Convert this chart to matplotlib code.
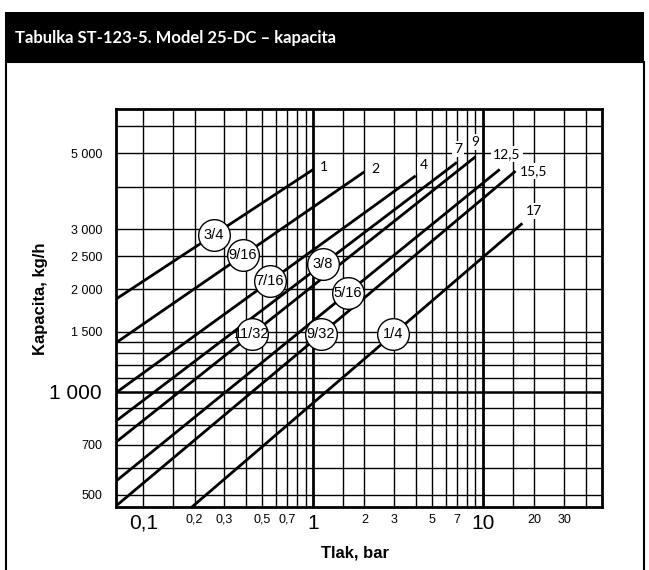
import numpy as np
import matplotlib.pyplot as plt
from matplotlib.patches import Rectangle

# orifice size, pressure range (bar) and capacity (kg/h) at both ends of each line
orifices = ['3/4', '9/16', '7/16', '3/8', '11/32', '5/16', '9/32', '1/4']
p_start = [0.07, 0.07, 0.07, 0.07, 0.07, 0.07, 0.07, 0.193]
cap_start = [1880, 1400, 1000, 826, 717, 551, 466, 460]
p_max = [1, 2, 4, 7, 9, 12.5, 15.5, 17]
cap_end = [4490, 4420, 4300, 4710, 4890, 4490, 4440, 3120]
p_max_labels = ['1', '2', '4', '7', '9', '12,5', '15,5', '17']
# pressure where the orifice badge sits on its line
p_badge = [0.26, 0.386, 0.556, 1.14, 0.436, 1.6, 1.11, 2.94]

x_ticks = [0.1, 0.2, 0.3, 0.5, 0.7, 1, 2, 3, 5, 7, 10, 20, 30]
x_ticklabels = ['0,1', '0,2', '0,3', '0,5', '0,7', '1', '2', '3', '5', '7', '10', '20', '30']
y_ticks = [500, 700, 1000, 1500, 2000, 2500, 3000, 5000]
y_ticklabels = ['500', '700', '1 000', '1 500', '2 000', '2 500', '3 000', '5 000']
big_x = ['0,1', '1', '10']
big_y = ['1 000']

x_grid = [0.1, 0.15, 0.2, 0.3, 0.4, 0.5, 0.6, 0.7, 0.8, 0.9, 1, 1.5, 2, 3, 4, 5, 6,
          7, 8, 9, 10, 15, 20, 30, 40]
y_grid = [500, 600, 700, 800, 900, 1000, 1100, 1200, 1300, 1400, 1500, 2000, 2500,
          3000, 4000, 5000, 6000]

# label offsets (pixels) from the end of each line
end_offsets = [(11, 2), (11, 3), (8, 11), (1, 13), (0, 15), (7, 15), (18, 0), (12, 12)]

narrow = ['Liberation Sans Narrow', 'Liberation Sans', 'DejaVu Sans']

fig = plt.figure(figsize=(6.49, 5.70), dpi=100)
W, H = 649, 570

# header band and frame
fig.patches.append(Rectangle((5 / W, 1 - 62 / H), 639 / W, 50 / H, transform=fig.transFigure,
                             facecolor='black', edgecolor='none', zorder=0))
fig.patches.append(Rectangle((5.5 / W, -0.01), 638 / W, 1 - 62 / H + 0.01,
                             transform=fig.transFigure, facecolor='none',
                             edgecolor='black', linewidth=1.5, zorder=0))
fig.text(15 / W, 1 - 38 / H, 'Tabulka ST-123-5. Model 25-DC – kapacita', color='white',
         fontsize=12, fontweight='bold', family='Lato', va='center', ha='left')

ax = fig.add_axes([116 / W, 1 - 507 / H, 486 / W, 398 / H])
ax.set_xscale('log')
ax.set_yscale('log')
ax.set_xlim(0.069, 50)
ax.set_ylim(460, 6750)

for x in x_grid:
    lw = 2.0 if x in (1, 10) else 1.0
    ax.axvline(x, color='black', lw=lw, zorder=1)
for y in y_grid:
    lw = 1.8 if y == 1000 else 1.0
    ax.axhline(y, color='black', lw=lw, zorder=1)

for i, name in enumerate(orifices):
    xs = [p_start[i], p_max[i]]
    ys = [cap_start[i], cap_end[i]]
    ax.plot(xs, ys, color='black', lw=2.0, zorder=3, solid_capstyle='butt', clip_on=True)

    # badge sits on the line (interpolated in log-log space)
    t = (np.log10(p_badge[i]) - np.log10(xs[0])) / (np.log10(xs[1]) - np.log10(xs[0]))
    yb = 10 ** (np.log10(ys[0]) + t * (np.log10(ys[1]) - np.log10(ys[0])))
    ax.scatter([p_badge[i]], [yb], s=520, facecolor='white', edgecolor='black',
               linewidth=1.0, zorder=4)
    ax.text(p_badge[i], yb, name, ha='center', va='center', fontsize=10.5,
            family=narrow, zorder=5)

    ax.annotate(p_max_labels[i], (p_max[i], cap_end[i]), xytext=end_offsets[i],
                textcoords='offset pixels', ha='center', va='center', fontsize=10,
                family='Lato', zorder=5,
                bbox=dict(facecolor='white', edgecolor='none', pad=1.5))

ax.set_xticks(x_ticks)
ax.set_xticklabels(x_ticklabels, family=narrow)
ax.set_yticks(y_ticks)
ax.set_yticklabels(y_ticklabels, family=narrow)
ax.minorticks_off()
ax.tick_params(axis='x', length=0, pad=5)
ax.tick_params(axis='y', length=0, pad=10)
for lab in ax.get_xticklabels():
    lab.set_fontsize(15 if lab.get_text() in big_x else 9)
for lab in ax.get_yticklabels():
    lab.set_fontsize(15 if lab.get_text() in big_y else 9)

for sp in ax.spines.values():
    sp.set_linewidth(2.0)
    sp.set_zorder(6)

fig.text(355 / W, 1 - 553 / H, 'Tlak, bar', fontsize=12, fontweight='bold',
         family='Liberation Sans', ha='center', va='center')
fig.text(40 / W, 1 - 299 / H, 'Kapacita, kg/h', fontsize=12, fontweight='bold',
         family='Liberation Sans', ha='center', va='center', rotation=90)

fig.savefig('out.png', dpi=100)
